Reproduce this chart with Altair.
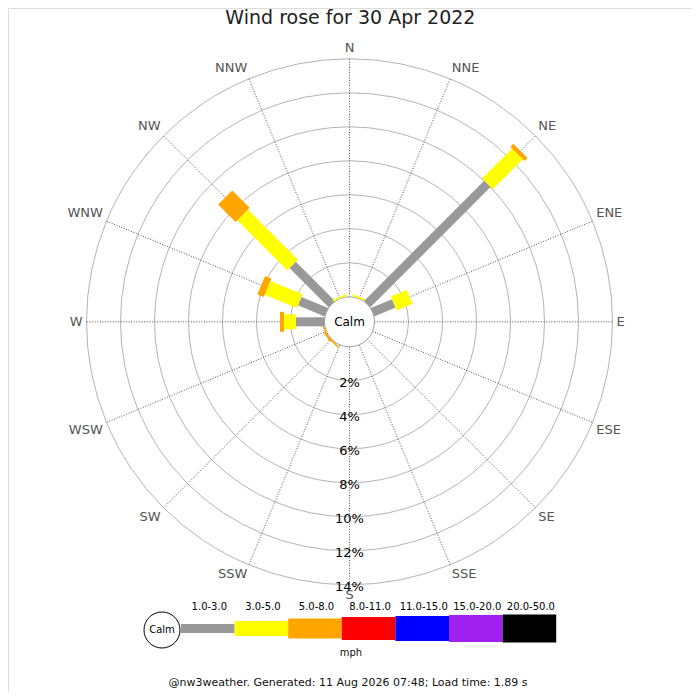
import altair as alt
import numpy as np
import pandas as pd

# percent of the day per direction, one list per speed band (mph)
directions = ['N', 'NNE', 'NE', 'ENE', 'E', 'ESE', 'SE', 'SSE',
              'S', 'SSW', 'SW', 'WSW', 'W', 'WNW', 'NW', 'NNW']
bands = ['1.0-3.0', '3.0-5.0', '5.0-8.0', '8.0-11.0', '11.0-15.0', '15.0-20.0', '20.0-50.0']
band_colors = ['#999999', '#ffff00', '#ffa500', '#ff0000', '#0000ff', '#a020f0', '#000000']
band_widths = [9, 15, 20, 23, 25, 27, 28]

pct_1_3 = [0, 0, 10.0, 1.35, 0, 0, 0, 0, 0, 0, 0, 0, 1.68, 1.7, 3.26, 0]
pct_3_5 = [0, 0.1, 2.5, 1.0, 0, 0, 0, 0, 0, 0, 0, 0, 0.7, 2.05, 4.16, 0.1]
pct_5_8 = [0, 0, 0.25, 0, 0, 0, 0, 0, 0, 0, 0.1, 0.1, 0.24, 0.4, 1.45, 0]
pct_8_11 = [0, 0, 0, 0, 0, 0, 0, 0, 0, 0, 0, 0, 0, 0, 0, 0]
pct_11_15 = [0, 0, 0, 0, 0, 0, 0, 0, 0, 0, 0, 0, 0, 0, 0, 0]
pct_15_20 = [0, 0, 0, 0, 0, 0, 0, 0, 0, 0, 0, 0, 0, 0, 0, 0]
pct_20_50 = [0, 0, 0, 0, 0, 0, 0, 0, 0, 0, 0, 0, 0, 0, 0, 0]
band_values = [pct_1_3, pct_3_5, pct_5_8, pct_8_11, pct_11_15, pct_15_20, pct_20_50]

range_ticks = [2, 4, 6, 8, 10, 12, 14]
title_text = 'Wind rose for 30 Apr 2022'
footer_text = '@nw3weather. Generated: 11 Aug 2026 07:48; Load time: 1.89 s'
unit_text = 'mph'
calm_text = 'Calm'

# layout (chart pixels, page is offset by 8px)
W = H = 684
K = 17.0            # px per percent
CX, CY = 341.5, 313.8
CALM_PX = 25
CALM_R = CALM_PX / K
LABEL_R = 267 / K
FONT = 'DejaVu Sans'


def ux(page_x):
    return (page_x - 8 - CX) / K


def uy(page_y):
    return (CY - (page_y - 8)) / K


xs = alt.Scale(domain=[-CX / K, (W - CX) / K], nice=False, zero=False)
ys = alt.Scale(domain=[-(H - CY) / K, CY / K], nice=False, zero=False)
X = alt.X('x:Q', scale=xs, axis=None)
Y = alt.Y('y:Q', scale=ys, axis=None)
circle_size = alt.Size('r:Q', scale=alt.Scale(type='pow', exponent=2, domain=[0, 1],
                                              range=[0, (2 * K) ** 2], nice=False), legend=None)

angles = np.deg2rad(np.arange(len(directions)) * 22.5)

# range circles
rings = pd.DataFrame({'x': 0.0, 'y': 0.0, 'r': [CALM_R + t for t in range_ticks]})
ring_layer = alt.Chart(rings).mark_point(shape='circle', filled=False, color='#b4b4b4',
                                         strokeWidth=1, opacity=1).encode(x=X, y=Y, size=circle_size)

# direction spokes
r_out = CALM_R + range_ticks[-1]
spokes = pd.DataFrame({
    'x': CALM_R * np.sin(angles), 'y': CALM_R * np.cos(angles),
    'x2': r_out * np.sin(angles), 'y2': r_out * np.cos(angles)})
spoke_layer = alt.Chart(spokes).mark_rule(color='#555555', strokeWidth=1, strokeDash=[1, 1.6]).encode(
    x=X, y=Y, x2='x2:Q', y2='y2:Q')

# calm circle
calm = pd.DataFrame({'x': [0.0], 'y': [0.0], 'r': [CALM_R], 't': [calm_text]})
calm_layer = alt.Chart(calm).mark_point(shape='circle', filled=True, fill='white', stroke='#a0a0a0',
                                        strokeWidth=1, opacity=1).encode(x=X, y=Y, size=circle_size)
calm_text_layer = alt.Chart(calm).mark_text(font=FONT, fontSize=12, color='black',
                                            baseline='middle').encode(x=X, y=Y, text='t:N')

# rose segments
rows = []
for i, d in enumerate(directions):
    start = CALM_R
    for b in range(len(bands)):
        v = band_values[b][i]
        if v <= 0:
            continue
        end = start + v
        rows.append({'dir': d, 'band': bands[b], 'col': band_colors[b], 'w': band_widths[b],
                     'x': start * np.sin(angles[i]), 'y': start * np.cos(angles[i]),
                     'x2': end * np.sin(angles[i]), 'y2': end * np.cos(angles[i])})
        start = end
seg = pd.DataFrame(rows)
seg_layer = alt.Chart(seg).mark_rule(strokeCap='butt', opacity=1).encode(
    x=X, y=Y, x2='x2:Q', y2='y2:Q',
    color=alt.Color('col:N', scale=None),
    size=alt.Size('w:Q', scale=None))

# direction labels
lab = pd.DataFrame({'t': directions,
                    'x': LABEL_R * np.sin(angles), 'y': LABEL_R * np.cos(angles)})
s, c = np.round(np.sin(angles), 3), np.round(np.cos(angles), 3)
lab['al'] = np.where(s > 0, 'left', np.where(s < 0, 'right', 'center'))
lab['bl'] = np.where(c > 0, 'bottom', np.where(c < 0, 'top', 'middle'))
lab['grp'] = lab['al'] + '-' + lab['bl']
dir_layers = []
for grp in lab['grp'].unique():
    al, bl = grp.split('-')
    dir_layers.append(alt.Chart(lab).transform_filter(alt.datum.grp == grp).mark_text(
        font=FONT, fontSize=13, color='#555555', align=al, baseline=bl).encode(x=X, y=Y, text='t:N'))

# percent labels along S
pct = pd.DataFrame({'t': [f'{t}%' for t in range_ticks], 'x': 0.0,
                    'y': [-(CALM_R + t) for t in range_ticks]})
pct_layer = alt.Chart(pct).mark_text(font=FONT, fontSize=13, color='black', baseline='middle',
                                     dy=2).encode(x=X, y=Y, text='t:N')

# legend
LEG_X0, LEG_STEP, LEG_Y = 181, 53.6, 628.5
leg = pd.DataFrame({
    't': bands, 'col': band_colors, 'w': band_widths,
    'x': [ux(LEG_X0 + i * LEG_STEP) for i in range(len(bands))],
    'x2': [ux(LEG_X0 + (i + 1) * LEG_STEP) for i in range(len(bands))],
    'y': uy(LEG_Y),
    'lx': [ux(LEG_X0 + (i + 0.5) * LEG_STEP + 1.5) for i in range(len(bands))],
    'ly': uy(607)})
leg_bar = alt.Chart(leg).mark_rule(strokeCap='butt', opacity=1).encode(
    x=X, y=Y, x2='x2:Q', color=alt.Color('col:N', scale=None), size=alt.Size('w:Q', scale=None))
leg_text = alt.Chart(leg).mark_text(font=FONT, fontSize=10, color='black', baseline='middle').encode(
    x=alt.X('lx:Q', scale=xs, axis=None), y=alt.Y('ly:Q', scale=ys, axis=None), text='t:N')
leg_calm = pd.DataFrame({'x': [ux(162)], 'y': [uy(630)], 'r': [18 / K], 't': [calm_text]})
leg_calm_layer = alt.Chart(leg_calm).mark_point(shape='circle', filled=True, fill='white', stroke='black',
                                                strokeWidth=1, opacity=1).encode(x=X, y=Y, size=circle_size)
leg_calm_text = alt.Chart(leg_calm).mark_text(font=FONT, fontSize=10, color='black',
                                              baseline='middle').encode(x=X, y=Y, text='t:N')

# title, unit, footer
misc = pd.DataFrame({'t': [title_text, unit_text, footer_text],
                     'x': [ux(350.4), ux(351), ux(348)],
                     'y': [uy(23.5), uy(653), uy(683)],
                     'fs': [19, 10, 11]})
title_layer = alt.Chart(misc.iloc[[0]]).mark_text(font=FONT, fontSize=19, color='#222222',
                                                  baseline='alphabetic').encode(x=X, y=Y, text='t:N')
small_layer = alt.Chart(misc.iloc[[1, 2]]).mark_text(font=FONT, color='#111111', baseline='middle').encode(
    x=X, y=Y, text='t:N', size=alt.Size('fs:Q', scale=None))

chart = alt.layer(
    ring_layer, spoke_layer, calm_layer, seg_layer, calm_text_layer,
    *dir_layers, pct_layer,
    leg_bar, leg_calm_layer, leg_calm_text, leg_text,
    title_layer, small_layer
).properties(
    width=W, height=H, padding=0,
    autosize=alt.AutoSizeParams(type='none')
).configure_view(
    stroke='black', strokeWidth=1
).configure(background='white')

chart.save('out.html', embed_options={'renderer': 'svg', 'actions': False})
